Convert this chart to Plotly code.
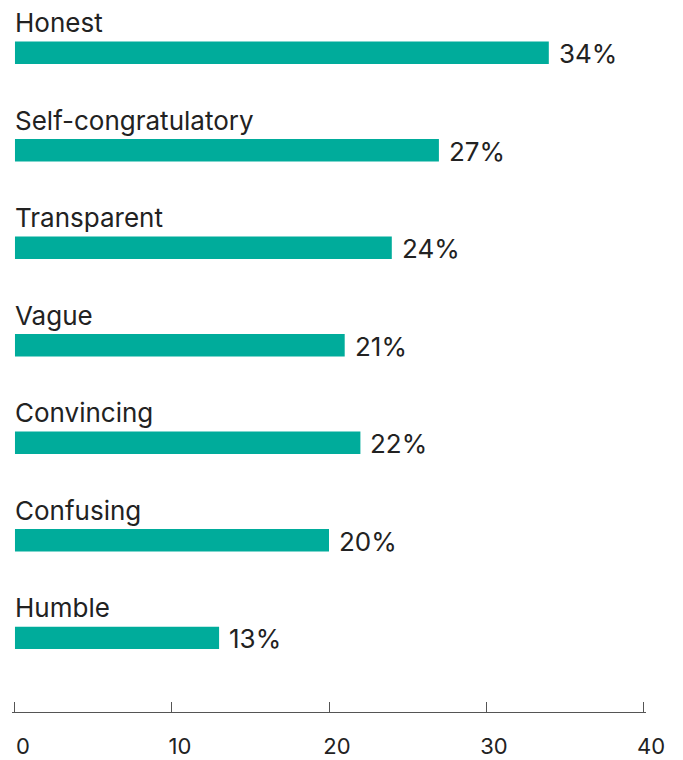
import plotly.graph_objects as go

categories = ["Honest", "Self-congratulatory", "Transparent", "Vague",
              "Convincing", "Confusing", "Humble"]
values = [34, 27, 24, 21, 22, 20, 13]
tick_values = [0, 10, 20, 30, 40]

BAR_COLOR = "#00ac9b"
TEXT_COLOR = "#222222"
FONT = "Inter"

positions = list(range(len(categories)))

fig = go.Figure(
    go.Bar(
        x=values,
        y=positions,
        orientation="h",
        marker=dict(color=BAR_COLOR, line=dict(width=0)),
        width=0.23,
        hoverinfo="skip",
    )
)

annotations = []
for pos, cat, val in zip(positions, categories, values):
    # category name sits above its bar, left aligned with the axis origin
    annotations.append(dict(
        x=0, y=pos, xref="x", yref="y", text=cat, showarrow=False,
        xanchor="left", yanchor="middle", yshift=30, xshift=-2,
        font=dict(family=FONT, size=26, color=TEXT_COLOR),
    ))
    # value label to the right of the bar end
    annotations.append(dict(
        x=val, y=pos, xref="x", yref="y", text=f"{val}%", showarrow=False,
        xanchor="left", yanchor="middle", xshift=8, yshift=-1,
        font=dict(family=FONT, size=26, color=TEXT_COLOR),
    ))

fig.update_layout(
    width=683, height=760,
    margin=dict(l=12, r=37, t=0, b=48),
    plot_bgcolor="white", paper_bgcolor="white",
    showlegend=False,
    annotations=annotations,
    xaxis=dict(
        range=[-0.19, 40.19], tickvals=tick_values,
        showgrid=False, zeroline=False, automargin=False,
        showline=True, linecolor="#555555", linewidth=1,
        ticks="inside", ticklen=10, tickcolor="#555555", tickwidth=1,
        ticklabelstandoff=15, ticklabelshift=8,
        tickfont=dict(family=FONT, size=22, color=TEXT_COLOR),
    ),
    yaxis=dict(
        range=[6.76, -0.54], visible=False, showgrid=False, zeroline=False,
    ),
)

fig.write_html("out.html")
